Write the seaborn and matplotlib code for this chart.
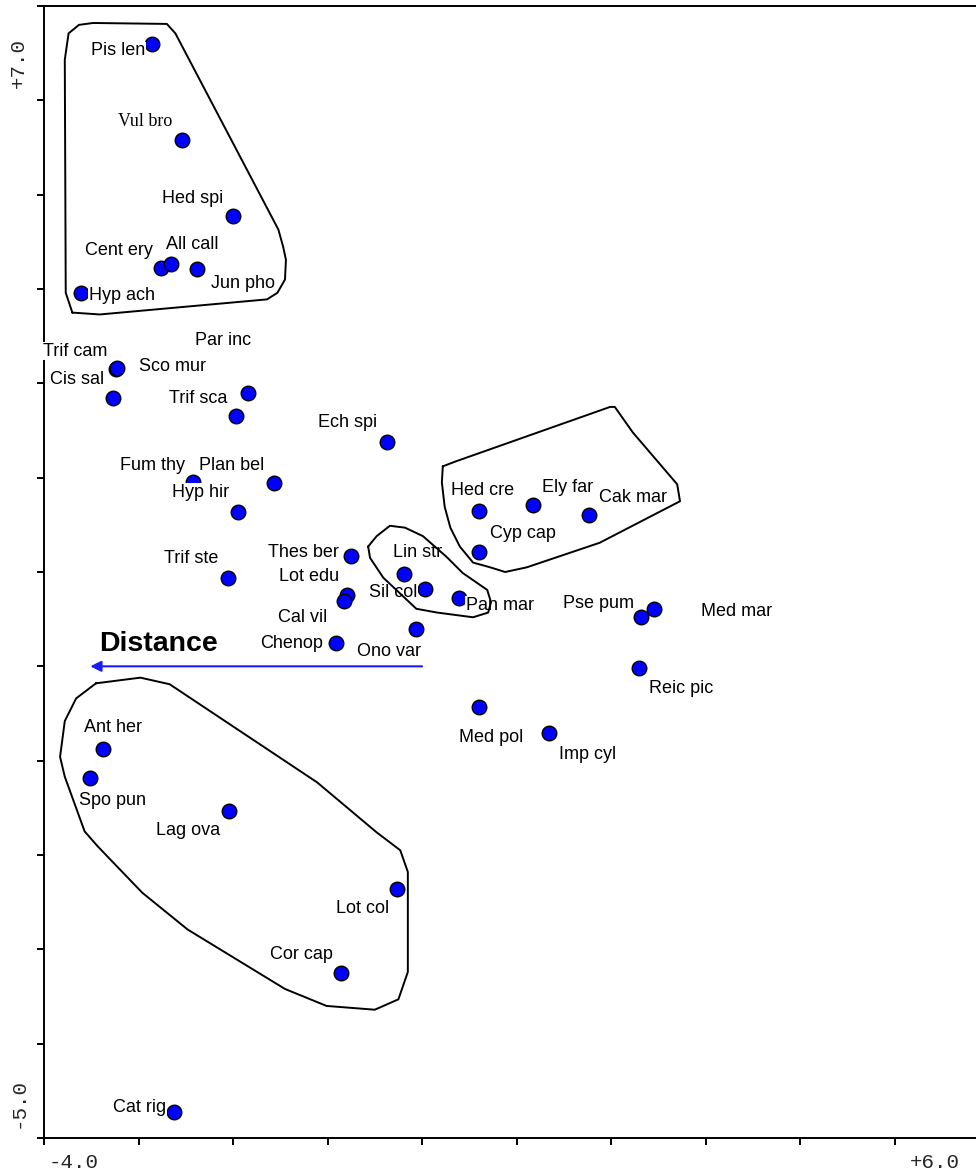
import matplotlib
matplotlib.use("Agg")
import matplotlib.pyplot as plt
import seaborn as sns
import pandas as pd

# Species scores on the first two ordination axes
species = ["Pis len", "Vul bro", "Hed spi", "Cent ery", "All call", "Jun pho", "Hyp ach",
           "Trif cam", "Sco mur", "Cis sal", "Par inc", "Trif sca", "Ech spi",
           "Fum thy", "Plan bel", "Hyp hir", "Trif ste", "Thes ber", "Lot edu", "Cal vil",
           "Chenop", "Ono var", "Lin str", "Sil col", "Pan mar", "Hed cre", "Ely far",
           "Cak mar", "Cyp cap", "Pse pum", "Med mar", "Reic pic", "Med pol", "Imp cyl",
           "Ant her", "Spo pun", "Lag ova", "Lot col", "Cor cap", "Cat rig"]
axis1 = [-2.86, -2.54, -2.00, -2.76, -2.66, -2.38, -3.61,
         -3.24, -3.23, -3.27, -1.84, -1.97, -0.37,
         -2.42, -1.57, -1.95, -2.05, -0.75, -0.79, -0.83,
         -0.91, -0.06, -0.19, 0.03, 0.39, 0.60, 1.17,
         1.77, 0.60, 2.32, 2.46, 2.30, 0.60, 1.34,
         -3.38, -3.51, -2.04, -0.26, -0.86, -2.62]
axis2 = [6.60, 5.58, 4.77, 4.22, 4.26, 4.21, 3.96,
         3.15, 3.16, 2.84, 2.90, 2.65, 2.38,
         1.95, 1.94, 1.64, 0.94, 1.17, 0.76, 0.69,
         0.25, 0.40, 0.98, 0.82, 0.72, 1.65, 1.71,
         1.60, 1.21, 0.52, 0.61, -0.02, -0.43, -0.71,
         -0.88, -1.18, -1.53, -2.36, -3.25, -4.72]

# Label placement relative to each point (pixels)
label_dx = [-34, -37, -40, -42, 22, 46, 41,
            -41, 56, -36, -25, -38, -39,
            -41, -42, -37, -37, -48, -38, -41,
            -44, -27, 14, -32, 41, 4, 35,
            44, 44, -43, 82, 42, 12, 39,
            10, 22, -41, -35, -39, -35]
label_dy = [-7, 18, 18, 18, 20, -14, -3,
            18, 2, 19, 52, 18, 19,
            17, 18, 19, 19, 3, 18, -16,
            -1, -23, 21, -4, -7, 20, 18,
            18, 19, 14, -3, -20, -31, -21,
            22, -23, -20, -20, 18, 4]
serif_labels = {"Vul bro"}

# Environmental vector
vector_name = "Distance"
vector_end = (-3.51, 0.0)

# Group envelopes
hull_a_x = [-3.70, -3.77, -3.78, -3.74, -3.63, -3.48, -2.70, -2.61, -1.52, -1.47,
            -1.44, -1.45, -1.53, -1.64, -3.41, -3.70]
hull_a_y = [3.75, 3.96, 6.43, 6.71, 6.80, 6.82, 6.81, 6.71, 4.63, 4.45,
            4.31, 4.10, 3.96, 3.89, 3.73, 3.75]
hull_b_x = [0.22, 0.21, 0.24, 0.30, 0.40, 0.54, 0.72, 0.88, 1.11, 1.88,
            2.73, 2.70, 2.23, 2.04, 1.99, 0.35, 0.22]
hull_b_y = [2.12, 1.95, 1.69, 1.47, 1.27, 1.10, 1.05, 1.00, 1.05, 1.31,
            1.75, 1.93, 2.48, 2.75, 2.75, 2.17, 2.12]
hull_c_x = [-0.57, -0.55, -0.41, -0.06, 0.16, 0.54, 0.70, 0.73, 0.69, 0.43,
            0.26, 0.01, -0.18, -0.34, -0.48, -0.57]
hull_c_y = [1.27, 1.15, 0.94, 0.61, 0.57, 0.52, 0.57, 0.68, 0.81, 0.99,
            1.16, 1.38, 1.47, 1.49, 1.38, 1.27]
hull_d_x = [-3.45, -2.98, -2.67, -1.11, -0.48, -0.23, -0.15, -0.15, -0.25, -0.50,
            -1.01, -1.45, -2.48, -2.96, -3.43, -3.57, -3.78, -3.83, -3.78, -3.66, -3.45]
hull_d_y = [-0.18, -0.12, -0.19, -1.23, -1.76, -1.95, -2.18, -3.24, -3.53, -3.64,
            -3.60, -3.42, -2.79, -2.40, -1.91, -1.75, -1.17, -0.96, -0.58, -0.34, -0.18]

x_range = (-4.0, 5.862)
y_range = (-5.0, 7.0)
x_end_labels = ("-4.0", "+6.0")
y_end_labels = ("-5.0", "+7.0")

sns.set_theme(style="white")
plt.rcParams["font.family"] = ["Liberation Sans", "DejaVu Sans"]

fig = plt.figure(figsize=(9.76, 11.73), dpi=100)
ax = fig.add_axes([44 / 976, 35 / 1173, 932 / 976, 1132 / 1173])

df = pd.DataFrame({"species": species, "ax1": axis1, "ax2": axis2})
sns.scatterplot(data=df, x="ax1", y="ax2", color="#0000ff", edgecolor="black",
                linewidth=1.0, s=110, zorder=2, ax=ax, legend=False)

for name, x, y, dx, dy in zip(species, axis1, axis2, label_dx, label_dy):
    fam = ["Liberation Serif"] if name in serif_labels else ["Liberation Sans"]
    ax.annotate(name, xy=(x, y), xytext=(dx, dy), textcoords="offset pixels",
                ha="center", va="center", fontsize=13, family=fam, color="black",
                zorder=3,
                bbox=dict(facecolor="white", edgecolor="none", pad=0.5))

for hx, hy in [(hull_a_x, hull_a_y), (hull_b_x, hull_b_y),
               (hull_c_x, hull_c_y), (hull_d_x, hull_d_y)]:
    ax.plot(hx, hy, color="black", lw=1.4, zorder=4)

ax.annotate("", xy=vector_end, xytext=(0, 0),
            arrowprops=dict(arrowstyle="-|>", color="#1a1aff", lw=1.5,
                            mutation_scale=16, shrinkA=0, shrinkB=0),
            zorder=4)
ax.annotate(vector_name, xy=vector_end, xytext=(68, 22), textcoords="offset pixels",
            ha="center", va="center", fontsize=20.5, fontweight="bold", color="black")

ax.set_xlim(*x_range)
ax.set_ylim(*y_range)
ax.set_xticks(range(-4, 6))
ax.set_yticks(range(-5, 8))
ax.tick_params(direction="out", length=5, width=1.4, color="black",
               labelbottom=False, labelleft=False, bottom=True, left=True)
ax.set_xlabel("")
ax.set_ylabel("")
for side in ["left", "bottom", "top"]:
    ax.spines[side].set_color("black")
    ax.spines[side].set_linewidth(1.4)
ax.spines["right"].set_visible(False)

mono = ["Liberation Mono"]
ax.annotate(x_end_labels[0], xy=(0, 0), xycoords="axes fraction", xytext=(30, -24),
            textcoords="offset pixels", ha="center", va="center", fontsize=15, family=mono)
ax.annotate(x_end_labels[1], xy=(1, 0), xycoords="axes fraction", xytext=(-41, -24),
            textcoords="offset pixels", ha="center", va="center", fontsize=15, family=mono)
ax.annotate(y_end_labels[0], xy=(0, 0), xycoords="axes fraction", xytext=(-26, 35),
            textcoords="offset pixels", ha="center", va="center", fontsize=15,
            family=mono, rotation=90)
ax.annotate(y_end_labels[1], xy=(0, 1), xycoords="axes fraction", xytext=(-26, -57),
            textcoords="offset pixels", ha="center", va="center", fontsize=15,
            family=mono, rotation=90)

fig.savefig("out.png", dpi=100, facecolor="white")
